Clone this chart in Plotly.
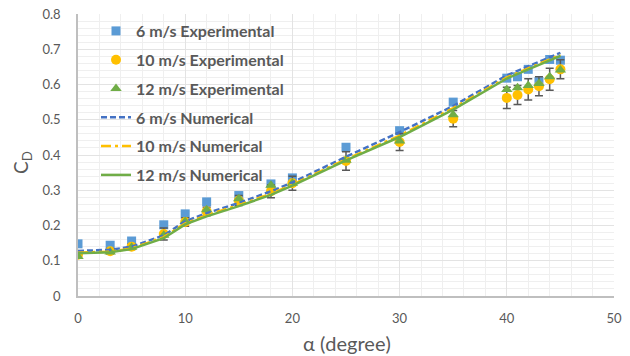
import plotly.graph_objects as go

# Angle of attack (degrees) for the wind-tunnel measurements
alpha_exp = [0, 3, 5, 8, 10, 12, 15, 18, 20, 25, 30, 35, 40, 41, 42, 43, 44, 45]
cd_6_exp = [0.148, 0.144, 0.156, 0.202, 0.233, 0.267, 0.285, 0.318, 0.335, 0.422,
            0.469, 0.550, 0.618, 0.622, 0.643, 0.608, 0.671, 0.669]
cd_10_exp = [0.117, 0.127, 0.140, 0.176, 0.210, 0.240, 0.271, 0.297, 0.320, 0.383,
             0.437, 0.503, 0.562, 0.570, 0.586, 0.595, 0.615, 0.643]
cd_10_err = [0.008, 0.008, 0.008, 0.017, 0.012, 0.012, 0.014, 0.018, 0.020, 0.026,
             0.024, 0.023, 0.030, 0.027, 0.030, 0.027, 0.031, 0.027]
cd_12_exp = [0.112, 0.125, 0.138, 0.172, 0.211, 0.245, 0.276, 0.314, 0.320, 0.385,
             0.440, 0.514, 0.586, 0.591, 0.597, 0.603, 0.622, 0.641]

# Angle of attack (degrees) for the CFD runs
alpha_num = [0, 3, 5, 8, 10, 12, 15, 18, 20, 25, 30, 35, 40, 45]
cd_6_num = [0.128, 0.131, 0.140, 0.172, 0.212, 0.235, 0.264, 0.297, 0.322, 0.395,
            0.465, 0.539, 0.626, 0.690]
cd_10_num = [0.123, 0.126, 0.135, 0.167, 0.206, 0.229, 0.258, 0.290, 0.316, 0.388,
             0.455, 0.533, 0.620, 0.684]
cd_12_num = [0.121, 0.124, 0.133, 0.164, 0.203, 0.226, 0.255, 0.287, 0.313, 0.385,
             0.451, 0.529, 0.617, 0.681]

BLUE_M = "#5B9BD5"
BLUE_L = "#4472C4"
ORANGE = "#FFC000"
GREEN = "#70AD47"
TEXT = "#595959"
FONT = "Lato"

W, H = 630, 356
ML, MR, MT, MB = 78, 16, 14, 60
PW, PH = W - ML - MR, H - MT - MB


def px_x(p):
    return (p - ML) / PW


def px_y(p):
    return (H - MB - p) / PH


fig = go.Figure()

fig.add_trace(go.Scatter(
    x=alpha_exp, y=cd_6_exp, mode="markers", name="6 m/s Experimental",
    legendgroup="a",
    marker=dict(symbol="square", size=9, color=BLUE_M)))
fig.add_trace(go.Scatter(
    x=alpha_exp, y=cd_10_exp, mode="markers", name="10 m/s Experimental",
    legendgroup="b",
    marker=dict(symbol="circle", size=10, color=ORANGE),
    error_y=dict(type="data", array=cd_10_err, visible=True,
                 color="#595959", thickness=1.5, width=4)))
fig.add_trace(go.Scatter(
    x=alpha_exp, y=cd_12_exp, mode="markers", name="12 m/s Experimental",
    legendgroup="c",
    marker=dict(symbol="triangle-up", size=10, color=GREEN)))

fig.add_trace(go.Scatter(
    x=alpha_num, y=cd_6_num, mode="lines", name="6 m/s Numerical",
    legendgroup="d",
    line=dict(color=BLUE_L, width=2.5, dash="6px,3px")))
fig.add_trace(go.Scatter(
    x=alpha_num, y=cd_10_num, mode="lines", name="10 m/s Numerical",
    legendgroup="e",
    line=dict(color=ORANGE, width=2.5, dash="10px,4px,3px,4px")))
fig.add_trace(go.Scatter(
    x=alpha_num, y=cd_12_num, mode="lines", name="12 m/s Numerical",
    legendgroup="f",
    line=dict(color=GREEN, width=2.5)))

fig.update_layout(
    width=W, height=H,
    margin=dict(l=ML, r=MR, t=MT, b=MB, autoexpand=False),
    paper_bgcolor="white", plot_bgcolor="white",
    font=dict(family=FONT, color=TEXT, size=13),
    showlegend=True,
    legend=dict(
        x=px_x(96), y=px_y(14), xanchor="left", yanchor="top",
        bgcolor="rgba(0,0,0,0)", traceorder="grouped", tracegroupgap=5,
        font=dict(family=FONT, size=16, color=TEXT, weight="bold"),
        itemwidth=30),
    annotations=[
        dict(text="C<sub>D</sub>", x=px_x(22), y=px_y(163),
             xref="paper", yref="paper", xanchor="center", yanchor="middle",
             showarrow=False, textangle=-90, font=dict(size=19, color=TEXT)),
        dict(text="α (degree)", x=px_x(347), y=px_y(343),
             xref="paper", yref="paper", xanchor="center", yanchor="middle",
             showarrow=False, font=dict(size=20, color=TEXT)),
    ],
)

fig.update_xaxes(
    range=[0, 50], dtick=10, showline=True, linecolor="#BFBFBF", linewidth=1.5,
    showgrid=True, gridcolor="#E3E3E3", gridwidth=1,
    minor=dict(dtick=2, showgrid=True, gridcolor="#EFEFEF", gridwidth=1),
    zeroline=False, ticks="", ticklabelstandoff=10, automargin=False,
    tickfont=dict(size=13, color=TEXT))
fig.update_yaxes(
    range=[0, 0.8], dtick=0.1, tickformat=".1~f", showline=True,
    linecolor="#BFBFBF", linewidth=1.5,
    showgrid=True, gridcolor="#E3E3E3", gridwidth=1,
    minor=dict(dtick=0.02, showgrid=True, gridcolor="#EFEFEF", gridwidth=1),
    zeroline=False, ticks="", ticklabelstandoff=13, automargin=False,
    tickfont=dict(size=13, color=TEXT))

fig.write_html("out.html")
